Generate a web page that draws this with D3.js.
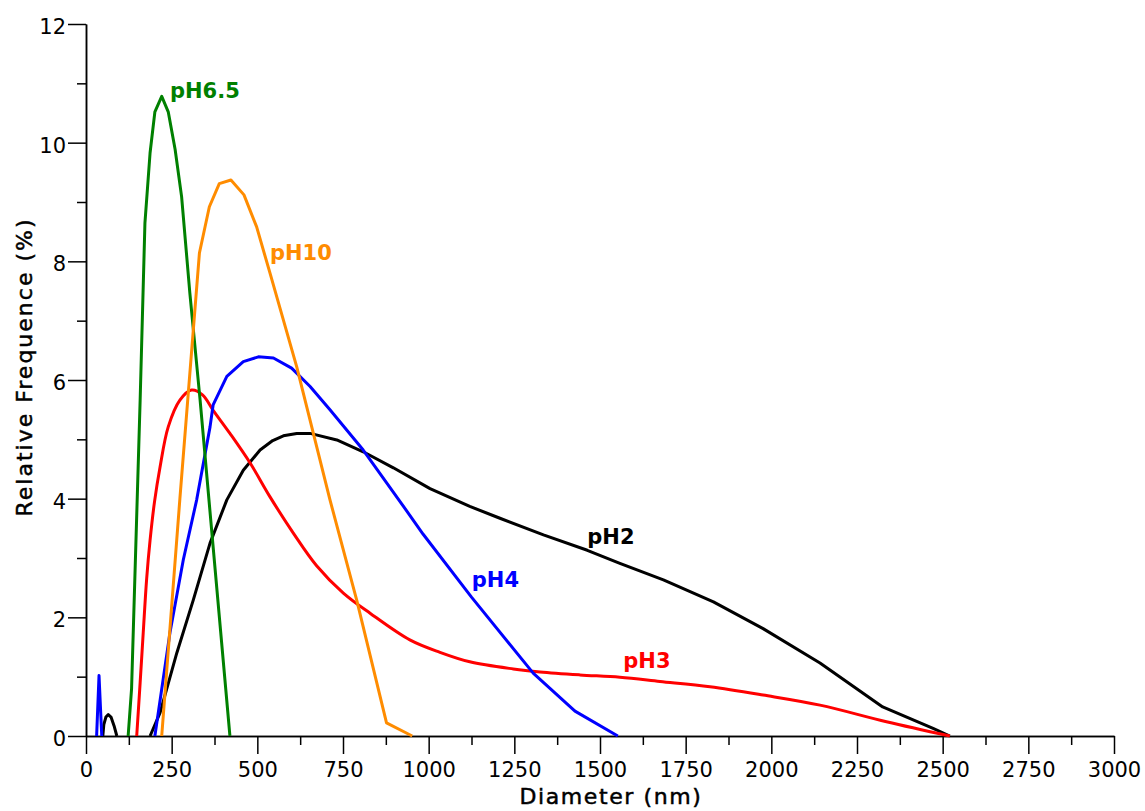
<!DOCTYPE html>
<html><head><meta charset="utf-8">
<script src="https://cdn.jsdelivr.net/npm/d3@7"></script>
<style>
body{margin:0;background:#fff;}
svg{display:block;}
.tick text{font-family:"DejaVu Sans",sans-serif;font-size:21px;fill:#000;}
</style>
</head><body>
<svg id="chart" width="1145" height="811"></svg>
<script>
// ---- data ----
const xMajorTicks = [0,250,500,750,1000,1250,1500,1750,2000,2250,2500,2750,3000];
const xMinorTicks = [125,375,625,875,1125,1375,1625,1875,2125,2375,2625,2875];
const yMajorTicks = [0,2,4,6,8,10,12];
const yMinorTicks = [1,3,5,7,9,11];

const pH2_small = [[49,0],[52,0.19],[58,0.32],[65,0.36],[73,0.32],[82,0.17],[90,0]];
const pH2 = [[187,0],[216,0.39],[265,1.4],[313,2.29],[362,3.25],[411,3.98],[459,4.48],[508,4.82],[545,4.98],[576,5.06],[615,5.1],[654,5.1],[732,4.99],[809,4.79],[897,4.52],[1004,4.17],[1120,3.87],[1208,3.67],[1335,3.39],[1463,3.13],[1558,2.91],[1685,2.63],[1831,2.26],[1976,1.81],[2142,1.23],[2325,0.49],[2472,0.13],[2521,0]];
const pH3 = [[148,0],[158,0.9],[167,1.74],[177,2.65],[187,3.3],[200,3.95],[216,4.53],[240,5.21],[274,5.66],[308,5.83],[340,5.75],[371,5.49],[420,5.1],[479,4.6],[537,4.03],[605,3.42],[673,2.87],[751,2.41],[829,2.07],[945,1.62],[1033,1.41],[1120,1.25],[1247,1.13],[1325,1.08],[1441,1.03],[1558,0.99],[1675,0.92],[1821,0.83],[1976,0.69],[2142,0.52],[2336,0.24],[2521,0]];
const pH4_spike = [[31,0],[38,1.02],[46,0]];
const pH4 = [[201,0],[245,1.74],[284,2.97],[323,3.98],[362,5.21],[371,5.58],[411,6.06],[459,6.31],[503,6.39],[547,6.37],[600,6.2],[654,5.89],[712,5.5],[809,4.82],[945,3.72],[984,3.4],[1125,2.34],[1305,1.06],[1427,0.42],[1552,0]];
const pH65 = [[123,0],[133,0.8],[158,5.66],[172,8.65],[187,9.83],[201,10.52],[221,10.78],[240,10.52],[260,9.89],[279,9.09],[303,7.47],[333,5.66],[420,0]];
const pH10 = [[221,0],[274,4.0],[331,8.14],[360,8.92],[389,9.31],[423,9.37],[461,9.12],[498,8.58],[537,7.8],[615,6.22],[712,3.98],[790,2.29],[877,0.22],[952,0]];

const seriesNames = ["pH2","pH3","pH4","pH6.5","pH10"];
const seriesColors = ["#000000","#ff0000","#0000ff","#008000","#ff8c00"];
const labelAt = [[1463,3.24],[1568,1.14],[1126,2.51],[245,10.75],[537,8.02]];

// ---- chart ----
const svg = d3.select("#chart");
const x = d3.scaleLinear().domain([0,3000]).range([86,1114]);
const y = d3.scaleLinear().domain([0,12]).range([736,24]);

function styleAxis(g){
  g.select(".domain").attr("stroke","#000").attr("stroke-width",1.5);
  g.selectAll(".tick line").attr("stroke","#000").attr("stroke-width",1.5);
}

// x axis
svg.append("g").attr("transform","translate(0,736)")
  .call(d3.axisBottom(x).tickValues(xMinorTicks).tickSize(9).tickSizeOuter(0).tickFormat(""))
  .call(styleAxis);
svg.append("g").attr("transform","translate(0,736)")
  .call(d3.axisBottom(x).tickValues(xMajorTicks).tickSize(18).tickSizeOuter(0).tickPadding(8).tickFormat(d3.format("d")))
  .call(styleAxis);

// y axis
svg.append("g").attr("transform","translate(86,0)")
  .call(d3.axisLeft(y).tickValues(yMinorTicks).tickSize(9).tickSizeOuter(0).tickFormat(""))
  .call(styleAxis);
svg.append("g").attr("transform","translate(86,0)")
  .call(d3.axisLeft(y).tickValues(yMajorTicks).tickSize(18).tickSizeOuter(0).tickPadding(2).tickFormat(d3.format("d")))
  .call(styleAxis)
  .selectAll(".tick text").attr("dy","0.45em");

// axis titles
svg.append("text").attr("x",611).attr("y",804).attr("text-anchor","middle")
  .attr("font-family","DejaVu Sans").attr("font-size",22).attr("letter-spacing","1.6px")
  .attr("stroke","#000").attr("stroke-width",0.5).attr("fill","#000")
  .text("Diameter (nm)");
svg.append("text").attr("transform","translate(32,367) rotate(-90)").attr("text-anchor","middle")
  .attr("font-family","DejaVu Sans").attr("font-size",22).attr("letter-spacing","2px")
  .attr("stroke","#000").attr("stroke-width",0.5).attr("fill","#000")
  .text("Relative Frequence (%)");

// lines
const lineLin = d3.line().x(d=>x(d[0])).y(d=>y(d[1]));
const lineSmooth = d3.line().x(d=>x(d[0])).y(d=>y(d[1])).curve(d3.curveCatmullRom.alpha(0.5));
const seriesData = [[pH2_small,pH2],[pH3],[pH4_spike,pH4],[pH65],[pH10]];
const smoothSeries = [false,true,false,false,false];
seriesData.forEach((parts,i)=>{
  parts.forEach(p=>{
    svg.append("path").datum(p).attr("d",smoothSeries[i] ? lineSmooth : lineLin)
      .attr("fill","none").attr("stroke",seriesColors[i])
      .attr("stroke-width",3).attr("stroke-linejoin","round");
  });
});

// series labels
seriesNames.forEach((n,i)=>{
  svg.append("text").attr("x",x(labelAt[i][0])).attr("y",y(labelAt[i][1]))
    .attr("font-family","DejaVu Sans").attr("font-weight","bold").attr("font-size",21)
    .attr("fill",seriesColors[i]).text(n);
});
</script>
</body></html>
